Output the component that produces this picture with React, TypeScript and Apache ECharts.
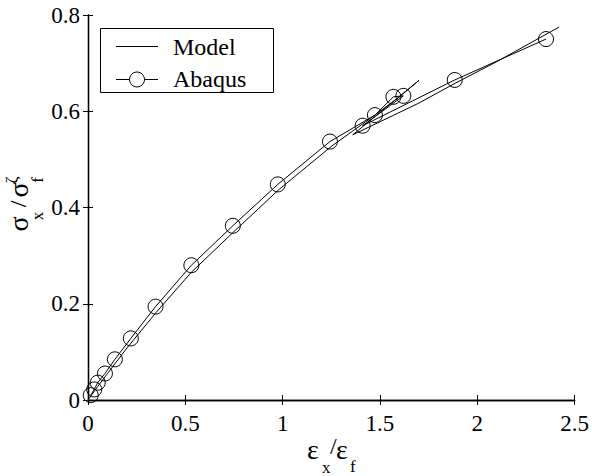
import React, { useEffect, useRef } from "react";
import * as echarts from "echarts";

// Model curve (εx/εf, σx/σf)
const modelX = [0, 0.05, 0.1, 0.2, 0.35, 0.53, 0.75, 0.98, 1.25, 1.45, 1.6, 1.7, 1.36, 1.7, 1.89, 2.1, 2.42];
const modelY = [0, 0.028, 0.055, 0.108, 0.182, 0.265, 0.35, 0.437, 0.527, 0.585, 0.63, 0.664, 0.551, 0.617, 0.659, 0.703, 0.775];

// Abaqus results
const abaqusX = [0.014, 0.032, 0.05, 0.087, 0.138, 0.22, 0.347, 0.531, 0.744, 0.975, 1.243, 1.474, 1.569, 1.62, 1.411, 1.884, 2.353];
const abaqusY = [0.01, 0.022, 0.036, 0.055, 0.0845, 0.128, 0.194, 0.28, 0.362, 0.448, 0.537, 0.592, 0.63, 0.632, 0.57, 0.665, 0.75];

const xTicks = { min: 0, max: 2.5, interval: 0.5 };
const yTicks = { min: 0, max: 0.8, interval: 0.2 };
const legendNames = ["Model", "Abaqus"];

const FONT = "'Liberation Serif', 'Times New Roman', Times, serif";

export default function App() {
  const ref = useRef<HTMLDivElement>(null);
  useEffect(() => {
    if (!ref.current) return;
    const chart = echarts.init(ref.current, null, { renderer: "svg" });
    const axisLine = { show: true, lineStyle: { color: "#000", width: 1.3 } };
    const tick = { show: true, inside: true, length: 5, lineStyle: { color: "#000", width: 1 } };
    const label = { color: "#000", fontFamily: FONT, fontSize: 23 };
    const rot = Math.PI / 2;
    const gText = (text: string, x: number, y: number, size: number, rotation = 0, align = "left") => ({
      type: "text",
      x,
      y,
      rotation,
      style: { text, fill: "#000", fontFamily: FONT, fontSize: size, align, verticalAlign: "middle" },
    });
    chart.setOption({
      animation: false,
      backgroundColor: "#fff",
      grid: { left: 88, right: 16, top: 15, bottom: 76 },
      xAxis: [
        { type: "value", ...xTicks, axisLine, axisTick: tick, splitLine: { show: false }, axisLabel: { ...label, margin: 12 } },
        { type: "value", position: "top", ...xTicks, axisLine, axisTick: tick, splitLine: { show: false }, axisLabel: { show: false } },
      ],
      yAxis: [
        { type: "value", ...yTicks, axisLine, axisTick: tick, splitLine: { show: false }, axisLabel: { ...label, margin: 8 } },
        { type: "value", position: "right", ...yTicks, axisLine, axisTick: tick, splitLine: { show: false }, axisLabel: { show: false } },
      ],
      series: [
        {
          name: legendNames[0],
          type: "line",
          data: modelX.map((x, i) => [x, modelY[i]]),
          symbol: "none",
          lineStyle: { color: "#000", width: 1 },
        },
        {
          name: legendNames[1],
          type: "line",
          data: abaqusX.map((x, i) => [x, abaqusY[i]]),
          symbol: "circle",
          symbolSize: 15,
          lineStyle: { color: "#000", width: 1 },
          itemStyle: { color: "transparent", borderColor: "#000", borderWidth: 1 },
        },
      ],
      graphic: [
        { type: "rect", shape: { x: 100.5, y: 28.5, width: 173, height: 64 }, style: { fill: "#fff", stroke: "#000", lineWidth: 1 }, z: 10 },
        { type: "line", shape: { x1: 116, y1: 46.5, x2: 158, y2: 46.5 }, style: { stroke: "#000", lineWidth: 1 }, z: 11 },
        { type: "line", shape: { x1: 116, y1: 79.5, x2: 158, y2: 79.5 }, style: { stroke: "#000", lineWidth: 1 }, z: 11 },
        { type: "circle", shape: { cx: 137, cy: 79.5, r: 7.5 }, style: { fill: "#fff", stroke: "#000", lineWidth: 1 }, z: 12 },
        { ...gText(legendNames[0], 173, 47, 24), z: 12 },
        { ...gText(legendNames[1], 173, 79, 24), z: 12 },
        // x axis title
        gText("ε", 307, 449, 28),
        gText("x", 322, 467, 17),
        gText("/", 330, 446, 24),
        gText("ε", 336, 449, 28),
        gText("f", 350, 466, 17),
        // y axis title
        gText("σ", 18, 224, 28, rot, "center"),
        gText("x", 37, 216, 17, rot, "center"),
        gText("/", 18, 204, 24, rot, "center"),
        gText("σ", 18, 190, 28, rot, "center"),
        gText("f", 37, 180, 17, rot, "center"),
        gText("ζ", 11, 180, 17, rot, "center"),
      ],
    });
    return () => chart.dispose();
  }, []);
  return <div ref={ref} style={{ position: "fixed", left: 0, top: 0, width: 592, height: 476 }} />;
}
